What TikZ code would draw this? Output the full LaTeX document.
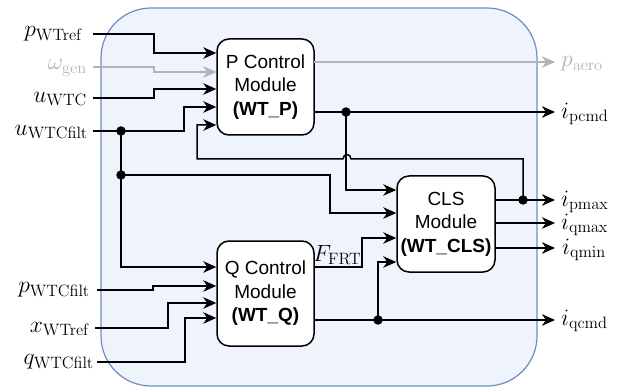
\RequirePackage{fix-cm}
\documentclass[tikz,border=0pt]{standalone}
\usepackage[no-math]{fontspec}
\newfontfamily\boxfont{Liberation Sans}
\usetikzlibrary{arrows.meta}
\definecolor{outerfill}{HTML}{EFF3FB}
\definecolor{outerdraw}{HTML}{6C8EBF}
\definecolor{graycol}{HTML}{B3B3B3}
\begin{document}
\begin{tikzpicture}[x=1pt,y=-1pt,
  wire/.style={line width=1.5pt},
  arr/.style={wire,-{Stealth[length=13pt,width=11.5pt,inset=4pt]}},
  garr/.style={arr,draw=graycol,color=graycol},
  modbox/.style={draw,line width=1.5pt,fill=white,rounded corners=12pt,align=center,
    font=\boxfont\fontsize{19}{23.5}\selectfont,inner sep=0pt},
  lab/.style={font=\fontsize{23.5}{27}\selectfont,inner sep=0pt},
  glab/.style={lab,text=graycol},
  jdot/.style={circle,fill=black,inner sep=0pt,minimum size=9.5pt}
]
\useasboundingbox (0,0) rectangle (628,387);
\fill[outerfill,draw=outerdraw,line width=1.2pt,rounded corners=50pt] (101,8) rectangle (537,386);

% modules
\node[modbox,minimum width=97pt,minimum height=96pt] (P) at (265.5,87) {P Control\\Module\\\textbf{(WT\_P)}};
\node[modbox,minimum width=97pt,minimum height=105pt] (Q) at (265.5,293.5) {Q Control\\Module\\\textbf{(WT\_Q)}};
\node[modbox,minimum width=98pt,minimum height=96pt] (C) at (446,224) {CLS\\Module\\\textbf{(WT\_CLS)}};

% left labels and start points
\coordinate (s1) at (93,34);  \node[lab,anchor=east] (lpref) at (83,34) {$p_{\mathrm{WTref}}$};
\coordinate (s2) at (93,67);  \node[glab,anchor=east] (lomg) at (87,68) {$\omega_{\mathrm{gen}}$};
\coordinate (s3) at (93,98);  \node[lab,anchor=east] (luwtc) at (87,99) {$u_{\mathrm{WTC}}$};
\coordinate (s4) at (93,131); \node[lab,anchor=east] (luf) at (88,132) {$u_{\mathrm{WTCfilt}}$};
\coordinate (s6) at (97,290); \node[lab,anchor=east] (lpf) at (90,290) {$p_{\mathrm{WTCfilt}}$};
\coordinate (s7) at (95,328); \node[lab,anchor=east] (lxr) at (90,329) {$x_{\mathrm{WTref}}$};
\coordinate (s8) at (97,362); \node[lab,anchor=east] (lqf) at (94,362) {$q_{\mathrm{WTCfilt}}$};

% bend points
\coordinate (b1) at (154,53);
\coordinate (b2) at (154,72);
\coordinate (b3) at (154,89);
\coordinate (b4) at (184,107);
\coordinate (b5) at (197,125);
\coordinate (b6) at (153,286);
\coordinate (b7) at (168,303);
\coordinate (b8) at (185,318);
\coordinate (dv1) at (121,131);
\coordinate (dv2) at (121,175);
\coordinate (qin1) at (121,267);
\coordinate (cin2) at (330,213);
\coordinate (dp) at (346,112);
\coordinate (cin1) at (346,190);
\coordinate (dq) at (378,320);
\coordinate (cin4) at (378,262);
\coordinate (ffrt) at (362,238);
\coordinate (dpm) at (523,200);

% output points
\coordinate (o1) at (314,62);  \coordinate (t1) at (555,62);
\coordinate (o2) at (314,112); \coordinate (t2) at (555,112);
\coordinate (o3) at (314,267);
\coordinate (o4) at (314,320); \coordinate (t4) at (555,320);
\coordinate (o5) at (495,200); \coordinate (t5) at (555,200);
\coordinate (o6) at (495,223); \coordinate (t6) at (555,223);
\coordinate (o7) at (495,248); \coordinate (t7) at (555,248);

% inputs to P
\draw[arr] (s1) -| (b1) -- (b1 -| P.west);
\draw[garr] (s2) -| (b2) -- (b2 -| P.west);
\draw[arr] (s3) -| (b3) -- (b3 -| P.west);
\draw[arr] (s4) -| (b4) -- (b4 -| P.west);
\draw[arr] (dpm) -- (523,159) -- (351,159) .. controls (351,153) and (343,153) .. (343,159) -- (197,159) -- (b5) -- (b5 -| P.west);

% left vertical bus
\draw[wire] (dv1) -- (dv2);
\draw[arr] (dv2) -- (qin1) -- (qin1 -| Q.west);
\draw[arr] (dv2) -| (cin2) -- (cin2 -| C.west);

% inputs to Q
\draw[arr] (s6) -| (b6) -- (b6 -| Q.west);
\draw[arr] (s7) -| (b7) -- (b7 -| Q.west);
\draw[arr] (s8) -| (b8) -- (b8 -| Q.west);

% P outputs
\draw[garr] (o1) -- (t1);
\draw[arr] (o2) -- (t2);
\draw[arr] (dp) -- (cin1) -- (cin1 -| C.west);

% Q outputs
\draw[arr] (o3) -| (ffrt) -- (ffrt -| C.west);
\draw[arr] (o4) -- (t4);
\draw[arr] (dq) -- (cin4) -- (cin4 -| C.west);

% CLS outputs
\draw[arr] (o5) -- (t5);
\draw[arr] (o6) -- (t6);
\draw[arr] (o7) -- (t7);

% right labels
\node[glab,anchor=west] (lpaero) at (561,64) {$p_{\mathrm{aero}}$};
\node[lab,anchor=west] (lipc) at (561,114) {$i_{\mathrm{pcmd}}$};
\node[lab,anchor=west] (lipm) at (561,202) {$i_{\mathrm{pmax}}$};
\node[lab,anchor=west] (liqm) at (561,225) {$i_{\mathrm{qmax}}$};
\node[lab,anchor=west] (liqn) at (562,250) {$i_{\mathrm{qmin}}$};
\node[lab,anchor=west] (liqc) at (561,321) {$i_{\mathrm{qcmd}}$};
\node[lab,anchor=south west] (lffrt) at (313,265) {$F_{\mathrm{FRT}}$};

% junction dots
\node[jdot] (j1) at (dv1) {};
\node[jdot] (j2) at (dv2) {};
\node[jdot] (j3) at (dp) {};
\node[jdot] (j4) at (dq) {};
\node[jdot] (j5) at (dpm) {};
\end{tikzpicture}
\end{document}
